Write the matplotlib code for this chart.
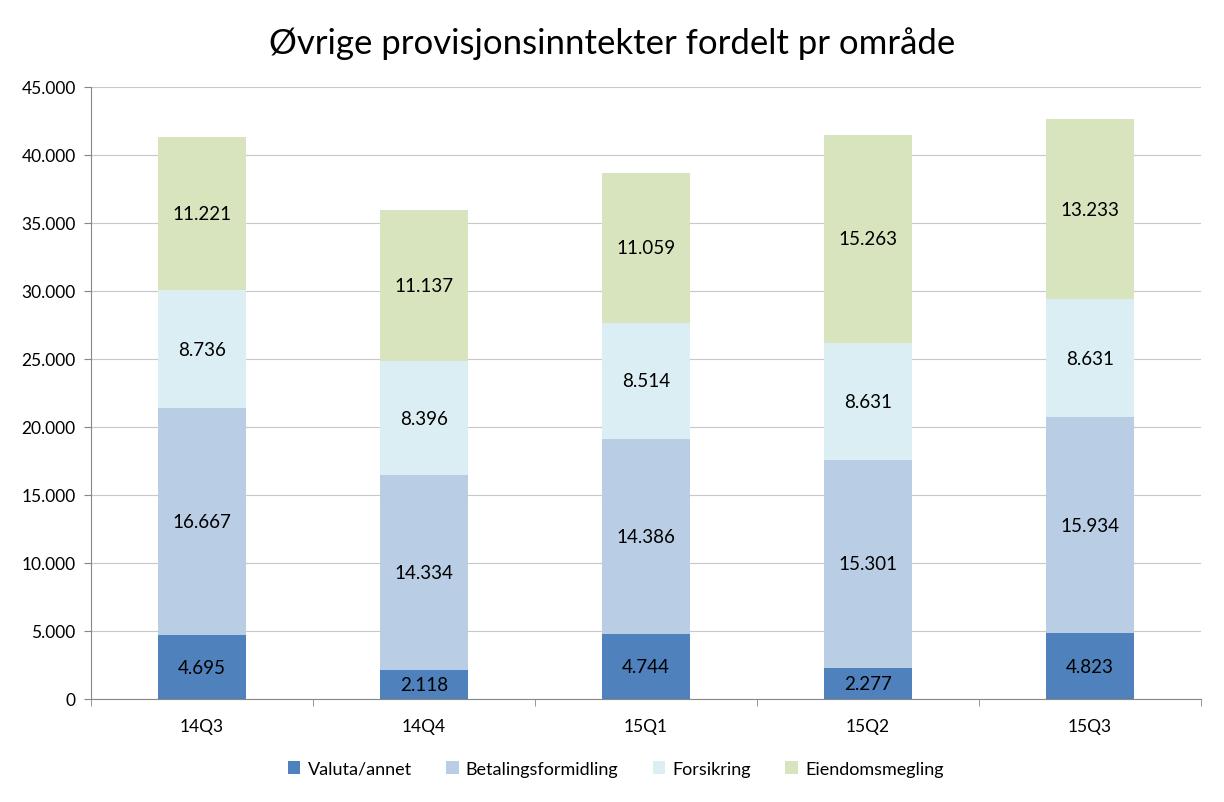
import numpy as np
import matplotlib.pyplot as plt
from matplotlib.ticker import FuncFormatter, FixedLocator

plt.rcParams['font.family'] = ['Lato', 'DejaVu Sans']

kvartaler = ['14Q3', '14Q4', '15Q1', '15Q2', '15Q3']
serier = ['Valuta/annet', 'Betalingsformidling', 'Forsikring', 'Eiendomsmegling']
valuta = [4695, 2118, 4744, 2277, 4823]
betaling = [16667, 14334, 14386, 15301, 15934]
forsikring = [8736, 8396, 8514, 8631, 8631]
eiendom = [11221, 11137, 11059, 15263, 13233]
farger = ['#4F81BD', '#B9CDE5', '#DBEEF4', '#D7E4BD']


def tusen(v, pos=None):
    # norsk tusenskille med punktum
    return '{:,.0f}'.format(v).replace(',', '.')


fig = plt.figure(figsize=(12.24, 8.03), dpi=100)
ax = fig.add_axes([91 / 1224, 1 - 700 / 803, 1110 / 1224, 612 / 803])

x = np.arange(len(kvartaler))
bunn = np.zeros(len(kvartaler))
for navn, verdier, farge in zip(serier, [valuta, betaling, forsikring, eiendom], farger):
    verdier = np.array(verdier)
    ax.bar(x, verdier, 0.4, bottom=bunn, color=farge, label=navn, zorder=2)
    for xi, b, v in zip(x, bunn, verdier):
        ax.text(xi, b + v / 2, tusen(v), ha='center', va='center', fontsize=13.5, color='black', zorder=3)
    bunn += verdier

ax.set_xlim(-0.5, len(kvartaler) - 0.5)
ax.set_ylim(0, 45000)
ax.set_yticks(np.arange(0, 45001, 5000))
ax.yaxis.set_major_formatter(FuncFormatter(tusen))
ax.grid(axis='y', color='#C8C8C8', linewidth=0.8, zorder=0)

ax.set_xticks(x)
ax.set_xticklabels(kvartaler)
ax.xaxis.set_minor_locator(FixedLocator(np.arange(-0.5, len(kvartaler), 1)))
ax.tick_params(axis='x', which='major', length=0, pad=14, labelsize=12.5)
ax.tick_params(axis='x', which='minor', length=5, color='#878787')
ax.tick_params(axis='y', length=5, color='#878787', labelsize=12.5, pad=6)

for s in ['top', 'right']:
    ax.spines[s].set_visible(False)
for s in ['left', 'bottom']:
    ax.spines[s].set_color('#878787')

fig.suptitle('Øvrige provisjonsinntekter fordelt pr område', fontsize=25,
             x=0.5, y=1 - 44 / 803, va='center')

fig.legend(loc='center', bbox_to_anchor=(0.503, 1 - 770 / 803), ncol=4, frameon=False,
           fontsize=13, handlelength=0.7, handleheight=0.7, handletextpad=0.4, columnspacing=1.9)

fig.savefig('out.png', dpi=100)
